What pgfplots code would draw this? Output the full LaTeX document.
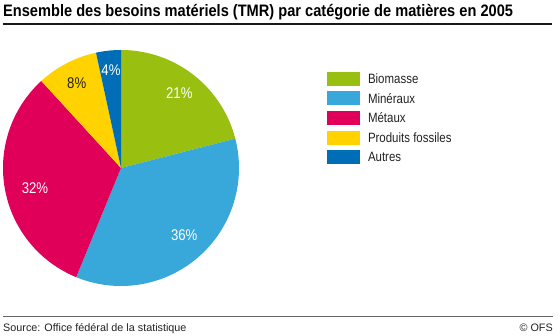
\documentclass[border=0pt]{standalone}
\usepackage{fontspec}
\setmainfont{Liberation Sans}[FakeStretch=0.85]
\newfontfamily\titlefont{Liberation Sans}[FakeStretch=0.88]
\newfontfamily\srcfont{Liberation Sans}
\usepackage{pgfplots}
\pgfplotsset{compat=1.18}
\definecolor{cGreen}{HTML}{99BF11}
\definecolor{cLight}{HTML}{38A8DB}
\definecolor{cMag}{HTML}{E0005A}
\definecolor{cYel}{HTML}{FFD200}
\definecolor{cBlue}{HTML}{006EB6}
\definecolor{cText}{HTML}{222222}
\begin{document}
\begin{tikzpicture}[x=1pt,y=1pt]
\path[use as bounding box] (0,0) rectangle (560,335);
% title
\node[anchor=base west, inner sep=0pt, font=\titlefont\fontsize{16.6}{18}\selectfont\bfseries] at (3,318.3) {Ensemble des besoins matériels (TMR) par catégorie de matières en 2005};
\draw[line width=1.3pt, black!90] (3,311) -- (552,311);
\draw[line width=0.8pt, black!60] (3,19) -- (553,19);
\node[anchor=base west, inner sep=0pt, font=\srcfont\fontsize{10.8}{13}\selectfont, text=cText] at (3,3.3) {Source: Office fédéral de la statistique};
\node[anchor=base east, inner sep=0pt, font=\srcfont\fontsize{10.8}{13}\selectfont, text=cText] at (553,3.3) {© OFS};
\begin{axis}[
  hide axis, scale only axis, clip=false,
  width=236pt, height=236pt,
  xmin=-1, xmax=1, ymin=-1, ymax=1,
  at={(121pt,167pt)}, anchor=center,
  legend cell align=left,
  legend image code/.code={\path[#1, draw=none] (0pt,-7pt) rectangle (33pt,7pt);},
  legend style={draw=none, fill=none, inner sep=0pt, outer sep=0pt,
    at={(1.3742,0.908)}, anchor=north west, row sep=5.6pt,
    font=\fontsize{13.5}{14}\selectfont, text=cText,
    nodes={inner sep=0pt, text depth=0pt},
    /tikz/every odd column/.append style={column sep=7.7pt}},
]
\addplot[fill=cGreen, draw=none, domain=0:21, samples=60, variable=\t] ({sin(3.6*\t)}, {cos(3.6*\t)}) -- (axis cs:0,0) -- cycle;
\addlegendentry{Biomasse}
\addplot[fill=cLight, draw=none, domain=21:56.2, samples=80, variable=\t] ({sin(3.6*\t)}, {cos(3.6*\t)}) -- (axis cs:0,0) -- cycle;
\addlegendentry{Minéraux}
\addplot[fill=cMag, draw=none, domain=56.2:88.2, samples=80, variable=\t] ({sin(3.6*\t)}, {cos(3.6*\t)}) -- (axis cs:0,0) -- cycle;
\addlegendentry{Métaux}
\addplot[fill=cYel, draw=none, domain=88.2:96.6, samples=30, variable=\t] ({sin(3.6*\t)}, {cos(3.6*\t)}) -- (axis cs:0,0) -- cycle;
\addlegendentry{Produits fossiles}
\addplot[fill=cBlue, draw=none, domain=96.6:100, samples=20, variable=\t] ({sin(3.6*\t)}, {cos(3.6*\t)}) -- (axis cs:0,0) -- cycle;
\addlegendentry{Autres}
\begin{scope}[every node/.style={font=\fontsize{15.5}{16}\selectfont, inner sep=0pt}]
\node[text=white] at (axis cs:0.494,0.631) {21\%};
\node[text=white] at (axis cs:0.536,-0.570) {36\%};
\node[text=white] at (axis cs:-0.729,-0.175) {32\%};
\node[text=cText] at (axis cs:-0.375,0.721) {8\%};
\node[text=white] at (axis cs:-0.085,0.828) {4\%};
\end{scope}
\end{axis}
\end{tikzpicture}
\end{document}
